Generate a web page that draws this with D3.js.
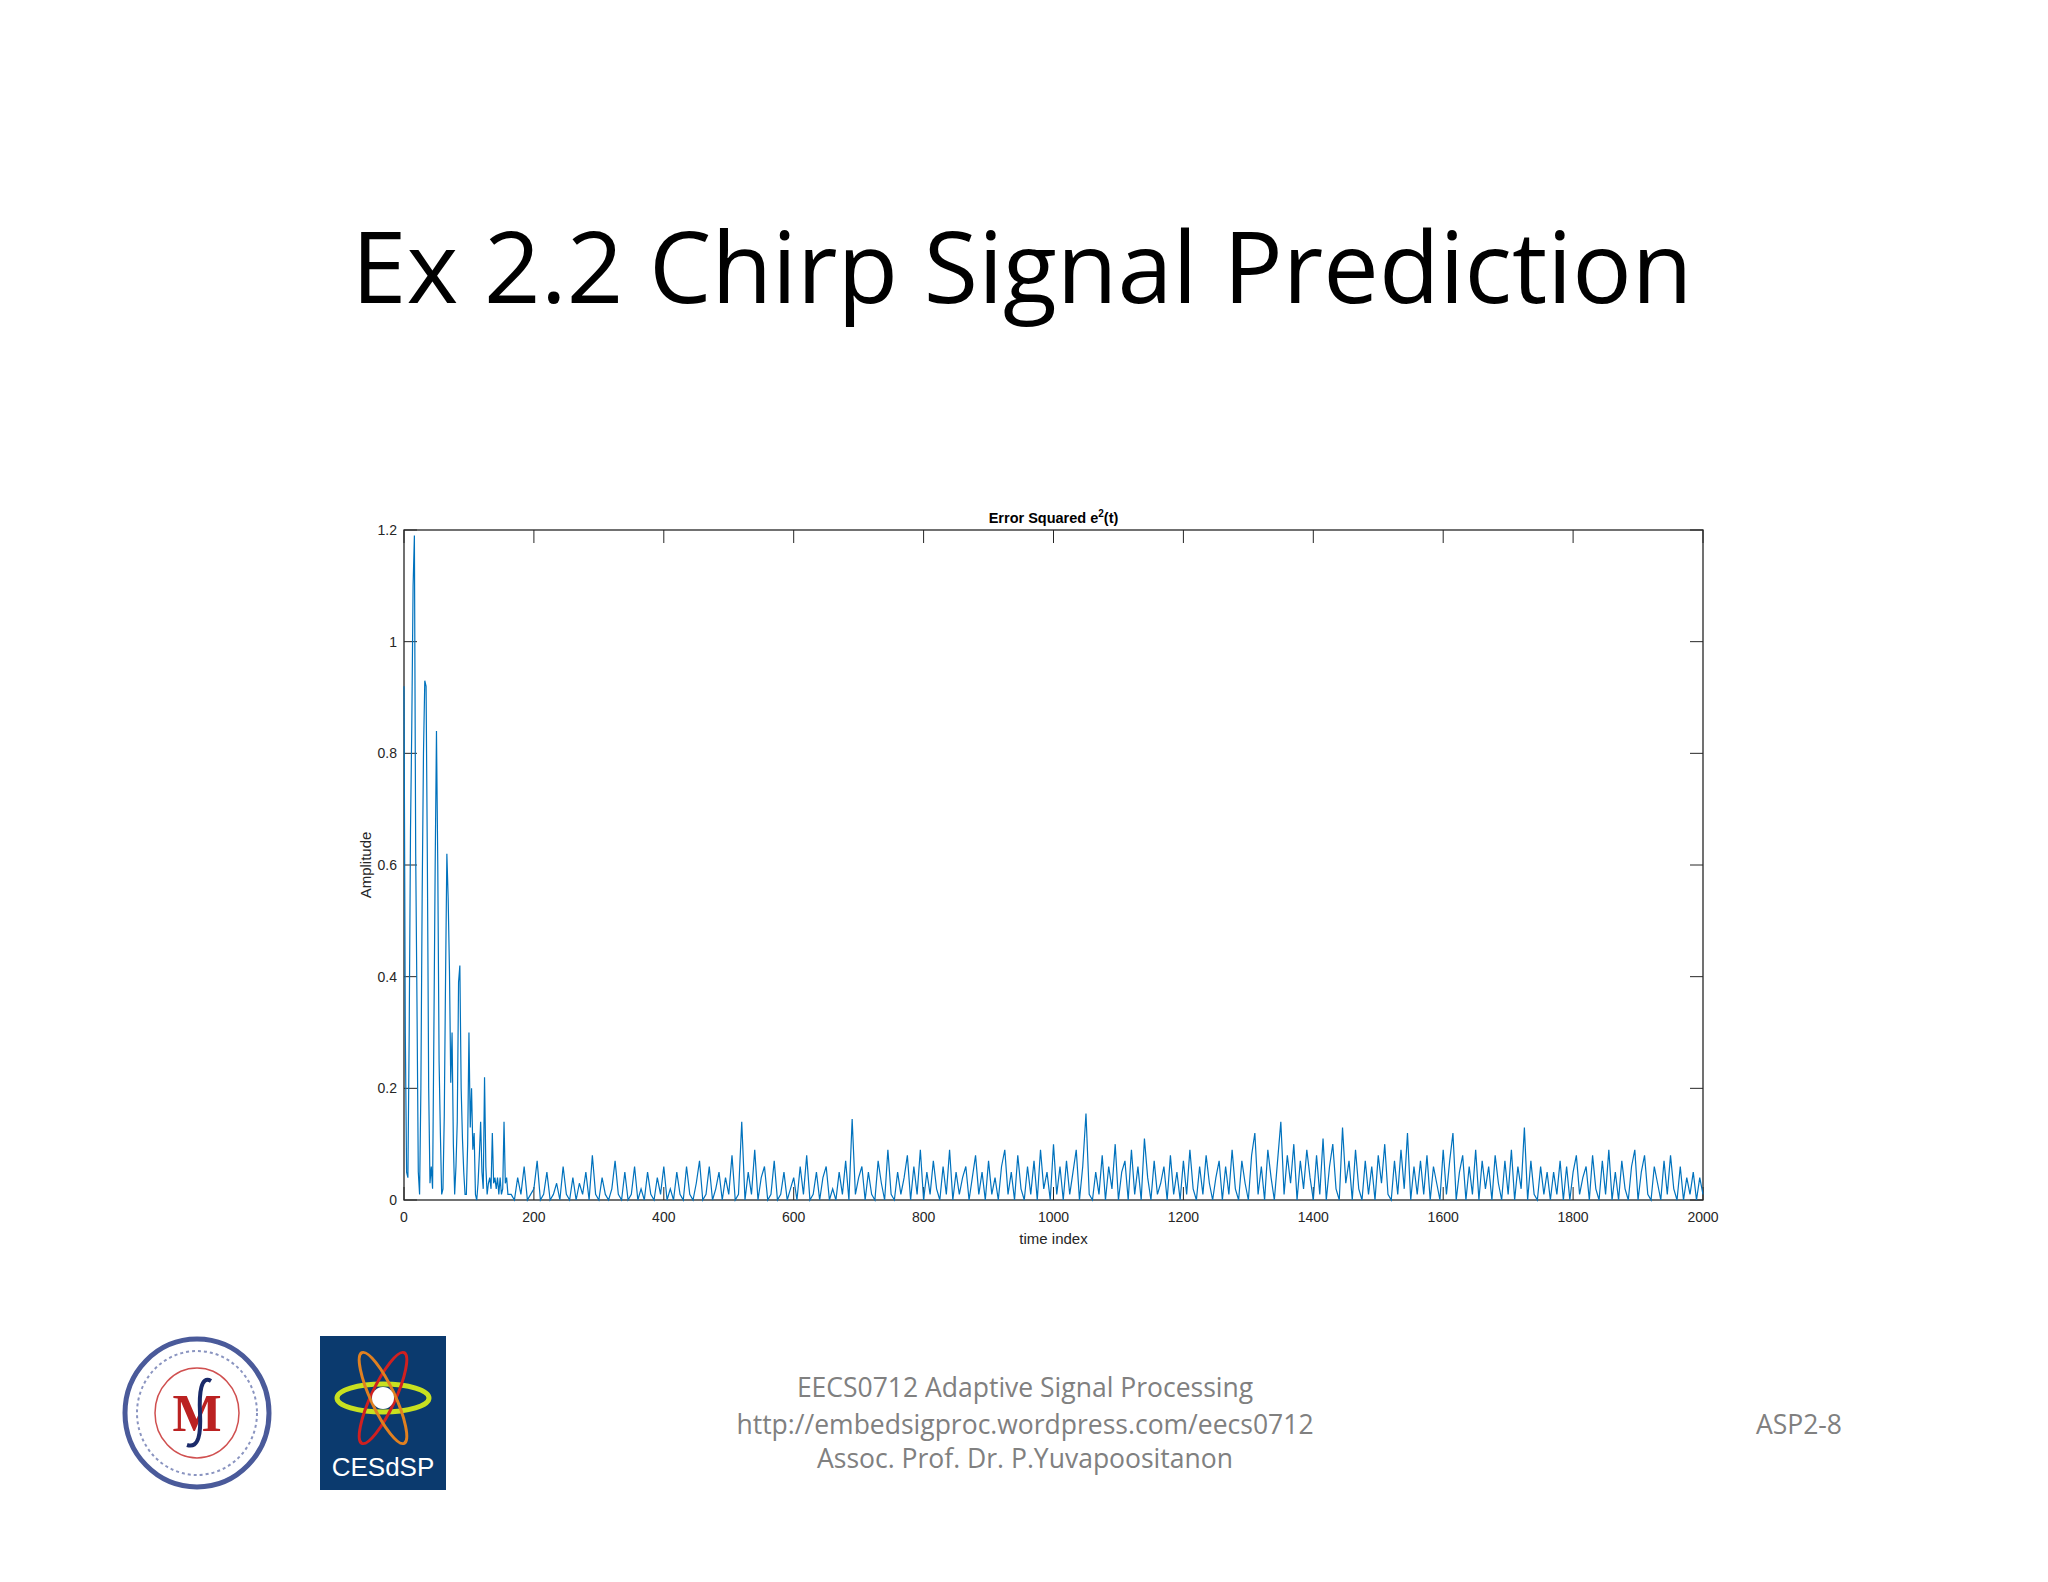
<!DOCTYPE html>
<html><head><meta charset="utf-8">
<script src="https://cdn.jsdelivr.net/npm/d3@7"></script>
<style>body{margin:0;background:#fff}svg{display:block}</style>
</head><body>
<script>
const title = "Ex 2.2 Chirp Signal Prediction";
const xTicks = [0,200,400,600,800,1000,1200,1400,1600,1800,2000];
const yTicks = [0,0.2,0.4,0.6,0.8,1,1.2];
// early segment: t = 0,2,4,...,160
const earlyStart = 0, earlyStep = 2;
const earlyValues = [0.92,0.3,0.05,0.04,0.3,0.66,0.85,1.1,1.19,0.62,0.35,0.05,0.01,0.2,0.55,0.8,0.93,0.92,0.6,0.2,0.03,0.06,0.02,0.3,0.6,0.84,0.6,0.25,0.12,0.01,0.02,0.15,0.4,0.62,0.54,0.41,0.21,0.3,0.1,0.01,0.06,0.14,0.39,0.42,0.2,0.11,0.05,0.01,0.01,0.1,0.3,0.13,0.2,0.09,0.12,0.01,0.0,0.03,0.08,0.14,0.05,0.02,0.22,0.06,0.01,0.03,0.04,0.02,0.12,0.03,0.04,0.02,0.04,0.01,0.04,0.01,0.02,0.14,0.03,0.04,0.01];
// late segment: t = 165,170,...,2000
const lateStart = 165, lateStep = 5;
const lateValues = [
.01,.00,.04,.01,.06,.00,.01,.02,.07,.00,.01,.05,.00,.01,.03,.00,.06,.01,.00,.04,
.00,.03,.01,.05,.00,.08,.01,.00,.04,.01,.00,.02,.07,.01,.00,.05,.00,.01,.06,.00,
.02,.00,.05,.01,.00,.04,.01,.06,.00,.02,.00,.05,.01,.00,.06,.01,.00,.03,.07,.00,
.01,.06,.00,.02,.05,.00,.04,.01,.08,.00,.01,.14,.00,.05,.01,.09,.00,.04,.06,.00,
.01,.07,.00,.01,.05,.00,.02,.04,.00,.06,.01,.08,.00,.01,.05,.00,.04,.06,.00,.02,
.00,.05,.01,.07,.00,.145,.01,.04,.06,.00,.05,.01,.00,.07,.03,.00,.09,.01,.00,.05,
.01,.04,.08,.00,.06,.01,.09,.00,.05,.01,.07,.02,.00,.06,.01,.09,.00,.05,.01,.04,
.06,.00,.04,.08,.01,.05,.00,.07,.01,.04,.00,.06,.09,.01,.05,.00,.08,.02,.00,.06,
.01,.07,.00,.09,.02,.05,.00,.10,.01,.06,.00,.07,.01,.05,.09,.00,.06,.155,.01,.00,
.05,.01,.08,.00,.06,.02,.10,.00,.05,.07,.00,.09,.01,.06,.00,.11,.04,.00,.07,.01,
.03,.06,.00,.08,.01,.05,.00,.07,.01,.09,.02,.00,.06,.01,.08,.03,.00,.04,.07,.00,
.06,.01,.09,.02,.00,.07,.03,.00,.08,.12,.01,.06,.00,.09,.04,.00,.07,.14,.01,.08,
.03,.10,.00,.07,.02,.09,.04,.00,.08,.01,.11,.00,.06,.10,.02,.00,.13,.03,.07,.00,
.09,.02,.00,.07,.01,.06,.00,.08,.03,.10,.01,.00,.07,.01,.09,.02,.12,.00,.06,.01,
.07,.01,.08,.00,.06,.03,.00,.09,.01,.07,.12,.00,.05,.08,.00,.06,.01,.09,.00,.07,
.02,.06,.00,.08,.03,.00,.07,.01,.09,.00,.06,.02,.13,.00,.07,.01,.00,.06,.01,.05,
.00,.05,.01,.07,.00,.06,.00,.05,.08,.01,.04,.06,.00,.08,.02,.00,.07,.01,.09,.00,
.05,.00,.07,.02,.00,.06,.09,.00,.05,.08,.01,.00,.06,.03,.00,.07,.01,.08,.02,.00,
.06,.00,.04,.01,.05,.00,.04,.01];
const footerLines = ["EECS0712 Adaptive Signal Processing","http://embedsigproc.wordpress.com/eecs0712","Assoc. Prof. Dr. P.Yuvapoositanon"];
const pageLabel = "ASP2-8";

const data = earlyValues.map((v,i)=>[earlyStart+i*earlyStep,v])
  .concat(lateValues.map((v,i)=>[lateStart+i*lateStep,v]));

const W=2048,H=1582;
const svg=d3.select("body").append("svg").attr("width",W).attr("height",H);
svg.append("text").attr("x",1022).attr("y",303).attr("text-anchor","middle")
  .attr("font-family","Open Sans, Noto Sans, sans-serif").attr("font-size",99).attr("fill","#000").text(title);

const L=404,R=1703,T=530,B=1200;
const x=d3.scaleLinear().domain([0,2000]).range([L,R]);
const y=d3.scaleLinear().domain([0,1.2]).range([B,T]);
const g=svg.append("g").attr("font-family","Liberation Sans, Arial, sans-serif");
g.append("rect").attr("x",L).attr("y",T).attr("width",R-L).attr("height",B-T).attr("fill","none").attr("stroke","#262626").attr("stroke-width",1.3);
xTicks.forEach(t=>{
  g.append("line").attr("x1",x(t)).attr("x2",x(t)).attr("y1",B).attr("y2",B-13).attr("stroke","#262626");
  g.append("line").attr("x1",x(t)).attr("x2",x(t)).attr("y1",T).attr("y2",T+13).attr("stroke","#262626");
  g.append("text").attr("x",x(t)).attr("y",B+22).attr("text-anchor","middle").attr("font-size",14).attr("fill","#262626").text(t);
});
yTicks.forEach(t=>{
  g.append("line").attr("x1",L).attr("x2",L+13).attr("y1",y(t)).attr("y2",y(t)).attr("stroke","#262626");
  g.append("line").attr("x1",R).attr("x2",R-13).attr("y1",y(t)).attr("y2",y(t)).attr("stroke","#262626");
  g.append("text").attr("x",L-7).attr("y",y(t)+5).attr("text-anchor","end").attr("font-size",14).attr("fill","#262626").text(t);
});
g.append("path").datum(data).attr("fill","none").attr("stroke","#0072BD").attr("stroke-width",1.2)
  .attr("d",d3.line().x(d=>x(d[0])).y(d=>y(d[1])));
g.append("text").attr("x",(L+R)/2).attr("y",B+44).attr("text-anchor","middle").attr("font-size",15).attr("fill","#262626").text("time index");
g.append("text").attr("transform",`translate(${L-33},${(T+B)/2}) rotate(-90)`).attr("text-anchor","middle").attr("font-size",15).attr("fill","#262626").text("Amplitude");
const tt=g.append("text").attr("x",(L+R)/2).attr("y",T-7).attr("text-anchor","middle").attr("font-size",14.5).attr("font-weight","bold").attr("fill","#000");
tt.append("tspan").text("Error Squared e");
tt.append("tspan").attr("dy",-6).attr("font-size",10).text("2");
tt.append("tspan").attr("dy",6).text("(t)");

const ft=svg.append("g").attr("font-family","Open Sans, Noto Sans, sans-serif").attr("fill","#808080").attr("font-size",26.5);
ft.append("text").attr("x",1025).attr("y",1397).attr("text-anchor","middle").text(footerLines[0]);
ft.append("text").attr("x",1025).attr("y",1434).attr("text-anchor","middle").text(footerLines[1]);
ft.append("text").attr("x",1025).attr("y",1468).attr("text-anchor","middle").text(footerLines[2]);
ft.append("text").attr("x",1842).attr("y",1434).attr("text-anchor","end").text(pageLabel);

// logos (decorative)
const s1=svg.append("g").attr("transform","translate(197,1413)");
s1.append("ellipse").attr("rx",72).attr("ry",74).attr("fill","#fff").attr("stroke","#4a5a9a").attr("stroke-width",5);
s1.append("ellipse").attr("rx",60).attr("ry",62).attr("fill","none").attr("stroke","#8a94c0").attr("stroke-width",2).attr("stroke-dasharray","3,3");
s1.append("ellipse").attr("rx",42).attr("ry",45).attr("fill","none").attr("stroke","#d05050").attr("stroke-width",1.5);
s1.append("text").attr("y",18).attr("text-anchor","middle").attr("font-size",52).attr("font-family","Liberation Serif, serif").attr("font-weight","bold").attr("fill","#b22").text("M");
s1.append("path").attr("d","M14,-32 C4,-38 2,-20 3,0 C4,20 2,36 -10,32").attr("fill","none").attr("stroke","#1a2a6a").attr("stroke-width",4);
const s2=svg.append("g").attr("transform","translate(320,1336)");
s2.append("rect").attr("width",126).attr("height",154).attr("fill","#0b3a6e");
s2.append("ellipse").attr("cx",63).attr("cy",62).attr("rx",46).attr("ry",14).attr("fill","none").attr("stroke","#c8e020").attr("stroke-width",5);
s2.append("ellipse").attr("cx",63).attr("cy",62).attr("rx",12).attr("ry",50).attr("fill","none").attr("stroke","#d02020").attr("stroke-width",3).attr("transform","rotate(25,63,62)");
s2.append("ellipse").attr("cx",63).attr("cy",62).attr("rx",12).attr("ry",50).attr("fill","none").attr("stroke","#e08020").attr("stroke-width",3).attr("transform","rotate(-25,63,62)");
s2.append("circle").attr("cx",63).attr("cy",62).attr("r",11).attr("fill","#fff");
s2.append("text").attr("x",63).attr("y",140).attr("text-anchor","middle").attr("font-size",26).attr("font-family","Liberation Sans, Arial, sans-serif").attr("fill","#fff").text("CESdSP");
</script>
</body></html>
